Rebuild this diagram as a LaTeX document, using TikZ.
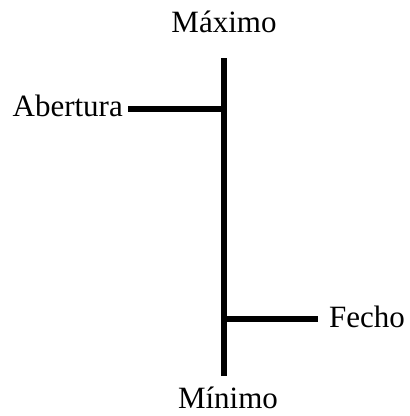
\documentclass[tikz,border=0pt]{standalone}
\usepackage{fontspec}
\setmainfont{Liberation Serif}
\begin{document}
\begin{tikzpicture}[x=1pt,y=-1pt,
  lbl/.style={font=\fontsize{31}{33}\selectfont, inner sep=0pt},
  bar/.style={line width=6pt}]
\useasboundingbox (0,0) rectangle (410,416);
\coordinate (top) at (223.5,58);
\coordinate (bot) at (223.5,376);
\coordinate (aj) at (223.5,109);
\coordinate (fj) at (223.5,319);
\node[lbl, anchor=base] (max) at (224,32) {Máximo};
\node[lbl, anchor=base] (min) at (228,408) {Mínimo};
\node[lbl, anchor=base east] (ab) at (123,116) {Abertura};
\node[lbl, anchor=base west] (fe) at (329,327) {Fecho};
\coordinate (abend) at (128,109);
\coordinate (feend) at (318,319);
\draw[bar] (top) -- (bot);
\draw[bar] (abend) -- (aj);
\draw[bar] (fj) -- (feend);
\end{tikzpicture}
\end{document}
